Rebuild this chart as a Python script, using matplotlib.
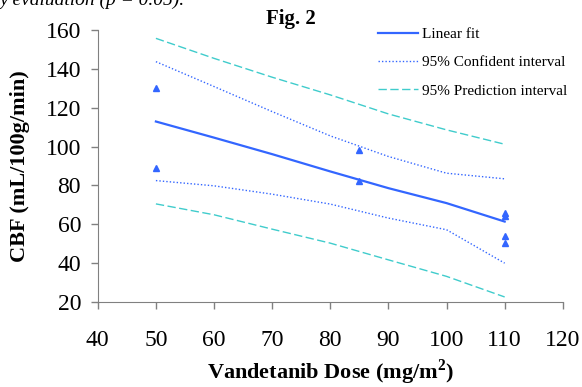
import matplotlib.pyplot as plt

# observed points
dose_pts = [50, 50, 85, 85, 110, 110, 110, 110]
cbf_pts = [130, 89, 98, 82.5, 66, 64.5, 54, 50.5]

# fit and bands
dose_line = [50, 60, 70, 80, 90, 100, 110]
fit = [112.9, 104.6, 96.1, 87.2, 78.6, 70.9, 61.4]
conf_hi = [143.7, 130.9, 118.0, 105.5, 94.9, 86.3, 83.4]
conf_lo = [82.5, 79.8, 75.5, 70.4, 63.2, 57.2, 40.0]
pred_hi = [155.7, 145.4, 135.7, 126.6, 116.8, 108.6, 101.2]
pred_lo = [70.5, 64.9, 57.5, 50.3, 41.7, 33.2, 22.6]

xticks = [40, 50, 60, 70, 80, 90, 100, 110, 120]
yticks = [20, 40, 60, 80, 100, 120, 140, 160]

plt.rcParams['font.family'] = ['Liberation Serif', 'DejaVu Serif']
plt.rcParams['mathtext.fontset'] = 'custom'
plt.rcParams['mathtext.rm'] = 'Liberation Serif'
plt.rcParams['mathtext.bf'] = 'Liberation Serif:bold'

blue = '#3366ff'
cyan = '#40cccc'

fig = plt.figure(figsize=(5.82, 3.87), dpi=100)
ax = fig.add_axes([0.168, 0.2196, 0.799, 0.7029])

ax.plot(dose_line, fit, color=blue, lw=1.6, label='Linear fit')
ax.plot(dose_line, conf_hi, color=blue, lw=1, ls=(0, (1, 1.5)), label='95% Confident interval')
ax.plot(dose_line, conf_lo, color=blue, lw=1, ls=(0, (1, 1.5)))
ax.plot(dose_line, pred_hi, color=cyan, lw=1, ls=(0, (6, 2.5)), label='95% Prediction interval')
ax.plot(dose_line, pred_lo, color=cyan, lw=1, ls=(0, (6, 2.5)))
ax.plot(dose_pts, cbf_pts, ls='none', marker='^', color=blue, ms=5)

ax.set_xlim(40, 120)
ax.set_ylim(20, 160)
ax.set_xticks(xticks)
ax.set_yticks(yticks)
ax.tick_params(labelsize=17, length=5, color='#808080', width=1, direction='out')
ax.tick_params(axis='x', pad=15)
ax.tick_params(axis='y', pad=7)
for s in ['top', 'right']:
    ax.spines[s].set_visible(False)
for s in ['left', 'bottom']:
    ax.spines[s].set_color('#808080')

ax.set_xlabel('Vandetanib Dose (mg/m$^\\mathbf{2}$)', fontsize=16, fontweight='bold', labelpad=5)
ax.set_ylabel('CBF (mL/100g/min)', fontsize=16, fontweight='bold', labelpad=11)

ax.legend(loc='upper right', bbox_to_anchor=(1.04, 1.06), frameon=False, fontsize=11,
          handlelength=2.6, labelspacing=0.95, handletextpad=0.3)

fig.text(0.5, 0.952, 'Fig. 2', ha='center', va='center', fontsize=15, fontweight='bold')
fig.text(0.0, 1.0, 'y evaluation (p = 0.05).', ha='left', va='center', fontsize=14, style='italic')

fig.savefig('out.png', dpi=100)
